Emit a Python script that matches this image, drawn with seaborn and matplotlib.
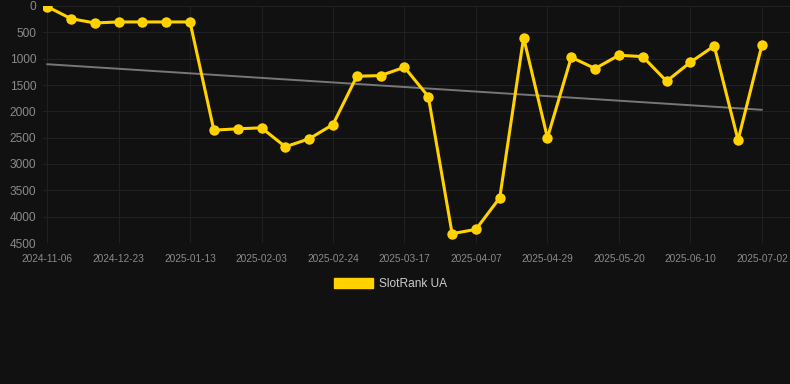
import pandas as pd
import numpy as np
import matplotlib
matplotlib.use("Agg")
import matplotlib.pyplot as plt
import matplotlib.patches as mpatches
import seaborn as sns

# weekly rank readings (lower = better, axis is inverted)
dates = ['2024-11-06', '2024-12-09', '2024-12-16', '2024-12-23', '2024-12-30',
         '2025-01-06', '2025-01-13', '2025-01-20', '2025-01-27', '2025-02-03',
         '2025-02-10', '2025-02-17', '2025-02-24', '2025-03-03', '2025-03-10',
         '2025-03-17', '2025-03-24', '2025-03-31', '2025-04-07', '2025-04-14',
         '2025-04-21', '2025-04-29', '2025-05-06', '2025-05-13', '2025-05-20',
         '2025-05-27', '2025-06-03', '2025-06-10', '2025-06-17', '2025-06-24',
         '2025-07-02']
rank = [10, 240, 322, 303, 303, 303, 303, 2357, 2332, 2313,
        2673, 2522, 2250, 1334, 1321, 1163, 1719, 4323, 4241, 3640,
        600, 2503, 973, 1188, 935, 961, 1428, 1068, 758, 2547,
        746]
series_name = 'SlotRank UA'

df = pd.DataFrame({'date': dates, 'rank': rank})
df['idx'] = np.arange(len(df))

# linear trend
coef = np.polyfit(df['idx'], df['rank'], 1)
df['trend'] = np.polyval(coef, df['idx'])

sns.set_style('dark')
plt.rcParams['font.family'] = ['Liberation Sans', 'DejaVu Sans']

bg = '#111111'
gold = '#FFD200'

fig = plt.figure(figsize=(7.9, 3.84), dpi=100, facecolor=bg)
ax = fig.add_axes([43 / 790, 1 - 243 / 384, 747 / 790, 237 / 384])
ax.set_facecolor(bg)

sns.lineplot(data=df, x='idx', y='trend', ax=ax, color='#777777', linewidth=1.4)
sns.lineplot(data=df, x='idx', y='rank', ax=ax, color=gold, linewidth=2.2,
             marker='o', markersize=7.5, markeredgewidth=0, markeredgecolor=gold)

ax.set_ylim(4500, 0)
ax.set_xlim(-0.17, 31.18)
ax.set_yticks(np.arange(0, 4501, 500))
ticks = df['idx'][::3]
ax.set_xticks(ticks)
ax.set_xticklabels(df['date'][::3])

ax.grid(True, color='#212121', linewidth=0.8)
ax.tick_params(axis='y', colors='#8a8a8a', labelsize=8.6, length=0, pad=5)
ax.tick_params(axis='x', colors='#8a8a8a', labelsize=7.3, length=0, pad=8)
for s in ax.spines.values():
    s.set_visible(False)
ax.set_xlabel('')
ax.set_ylabel('')

handle = mpatches.Patch(color=gold, label=series_name)
leg = fig.legend(handles=[handle], loc='center', bbox_to_anchor=(0.494, 1 - 284 / 384),
                 frameon=False, fontsize=8.6, handlelength=3.3, handleheight=0.9,
                 handletextpad=0.5)
for t in leg.get_texts():
    t.set_color('#cccccc')

fig.savefig('out.png', dpi=100, facecolor=bg)
